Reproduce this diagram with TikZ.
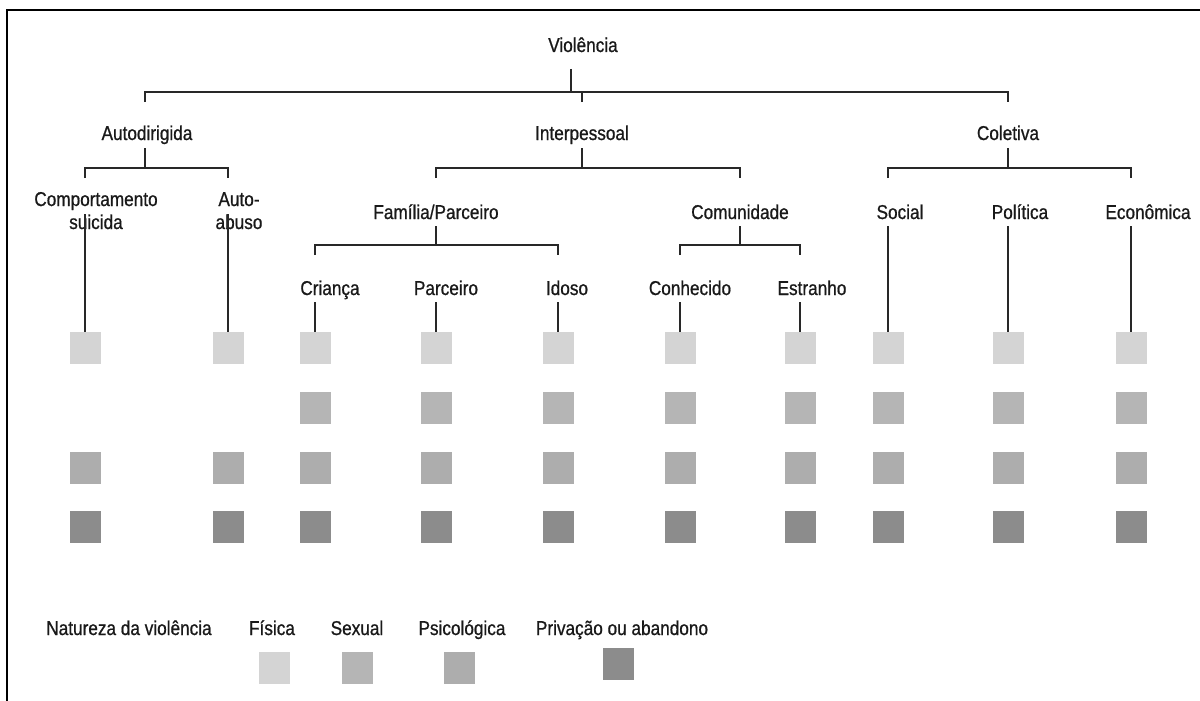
\documentclass[tikz,border=0pt]{standalone}
\usepackage{fontspec}
\setmainfont{Liberation Sans}[FakeStretch=0.86,FakeBold=0.8]
\definecolor{cfis}{RGB}{212,212,212}
\definecolor{csex}{RGB}{181,181,181}
\definecolor{cpsi}{RGB}{173,173,173}
\definecolor{cpri}{RGB}{140,140,140}
\definecolor{lin}{RGB}{40,40,40}
\begin{document}
\begin{tikzpicture}[x=1pt,y=-1pt,
  lbl/.style={font=\fontsize{20}{23}\selectfont, inner sep=0pt, align=center, text=black!90, anchor=base},
  conn/.style={line width=1.6pt, draw=lin},
  sqbase/.style={minimum width=31pt, minimum height=32pt, inner sep=0pt, draw=none},
  sqfis/.style={sqbase, fill=cfis},
  sqsex/.style={sqbase, fill=csex},
  sqpsi/.style={sqbase, fill=cpsi},
  sqpri/.style={sqbase, fill=cpri}]
\useasboundingbox (0,0) rectangle (1200,701);
\draw[line width=2.5pt, draw=black] (7,701) -- (7,10) -- (1200,10);

% squares
\foreach \c/\x in {1/85,2/228,3/315,4/436,5/558,6/680,7/800,8/888,9/1008,10/1131}{
  \node[sqfis] (s\c-1) at (\x,348) {};
  \node[sqpsi] (s\c-3) at (\x,468) {};
  \node[sqpri] (s\c-4) at (\x,527) {};
}
\foreach \c/\x in {3/315,4/436,5/558,6/680,7/800,8/888,9/1008,10/1131}{
  \node[sqsex] (s\c-2) at (\x,408) {};
}

% labels (positions are baselines of the last line)
\node[lbl] (viol) at (583,52) {Violência};
\node[lbl] (auto) at (147,140) {Autodirigida};
\node[lbl] (inter) at (582,140) {Interpessoal};
\node[lbl] (colet) at (1008,140) {Coletiva};
\node[lbl] (comp) at (96,229) {Comportamento\\suicida};
\node[lbl] (aab) at (239,229) {Auto-\\abuso};
\node[lbl] (fam) at (436,219) {Família/Parceiro};
\node[lbl] (comu) at (740,219) {Comunidade};
\node[lbl] (soc) at (900,219) {Social};
\node[lbl] (pol) at (1020,219) {Política};
\node[lbl] (eco) at (1148,219) {Econômica};
\node[lbl] (cri) at (330,295) {Criança};
\node[lbl] (par) at (446,295) {Parceiro};
\node[lbl] (ido) at (567,295) {Idoso};
\node[lbl] (con) at (690,295) {Conhecido};
\node[lbl] (est) at (812,295) {Estranho};

% level 0
\coordinate (v0) at (571,69);
\coordinate (v1) at (571,92);
\coordinate (bA) at (145,92);
\coordinate (bC) at (1008,92);
\coordinate (tA) at (145,102);
\coordinate (tI) at (582,102);
\coordinate (tC) at (1008,102);
\draw[conn] (v0) -- (v1);
\draw[conn] (tA) -- (bA) -- (bC) -- (tC);
\draw[conn] (tI) -- (tI |- bA);

% Autodirigida
\coordinate (a0) at (145,148);
\coordinate (a1) at (145,168);
\coordinate (aL) at (85,168);
\coordinate (aR) at (228,168);
\draw[conn] (a0) -- (a1);
\draw[conn] (85,178) -- (aL) -- (aR) -- (228,178);
\coordinate (cs0) at (85,214);
\coordinate (ab0) at (228,214);
\draw[conn] (cs0) -- (s1-1.north);
\draw[conn] (ab0) -- (s2-1.north);

% Interpessoal
\coordinate (i0) at (582,148);
\coordinate (iL) at (436,168);
\coordinate (iR) at (740,168);
\draw[conn] (i0) -- (i0 |- iL);
\draw[conn] (436,178) -- (iL) -- (iR) -- (740,178);

% Familia
\coordinate (f0) at (436,226);
\coordinate (fL) at (315,245);
\coordinate (fR) at (558,245);
\draw[conn] (f0) -- (f0 |- fL);
\draw[conn] (315,255) -- (fL) -- (fR) -- (558,255);
\foreach \c/\x in {3/315,4/436,5/558}{
  \draw[conn] (\x,302) -- (s\c-1.north);
}

% Comunidade
\coordinate (m0) at (740,226);
\coordinate (mL) at (680,245);
\coordinate (mR) at (800,245);
\draw[conn] (m0) -- (m0 |- mL);
\draw[conn] (680,255) -- (mL) -- (mR) -- (800,255);
\foreach \c/\x in {6/680,7/800}{
  \draw[conn] (\x,302) -- (s\c-1.north);
}

% Coletiva
\coordinate (k0) at (1008,148);
\coordinate (kL) at (888,168);
\coordinate (kR) at (1131,168);
\draw[conn] (k0) -- (k0 |- kL);
\draw[conn] (888,178) -- (kL) -- (kR) -- (1131,178);
\foreach \c/\x in {8/888,9/1008,10/1131}{
  \draw[conn] (\x,226) -- (s\c-1.north);
}

% legend
\node[lbl] (nat) at (129,635) {Natureza da violência};
\node[lbl] (lfis) at (272,635) {Física};
\node[lbl] (lsex) at (357,635) {Sexual};
\node[lbl] (lpsi) at (462,635) {Psicológica};
\node[lbl] (lpri) at (622,635) {Privação ou abandono};
\node[sqfis] (qfis) at (274,668) {};
\node[sqsex] (qsex) at (357,668) {};
\node[sqpsi] (qpsi) at (459,668) {};
\node[sqpri] (qpri) at (618,664) {};
\end{tikzpicture}
\end{document}
